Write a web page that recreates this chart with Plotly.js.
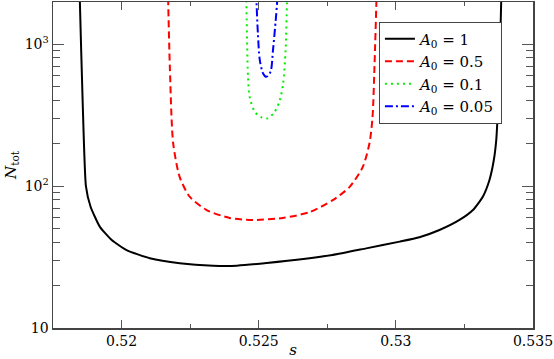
<!DOCTYPE html>
<html>
<head>
<meta charset="utf-8">
<script src="https://cdn.plot.ly/plotly-3.0.1.min.js"></script>
<style>
  html, body { margin: 0; padding: 0; background: #fff; }
  #plot { width: 554px; height: 359px; }
</style>
</head>
<body>
<div id="plot"></div>
<script>
// curves: s values and N_tot values for each amplitude
var s1 = [0.51846, 0.51848, 0.51858, 0.51870, 0.51887, 0.51921, 0.51964, 0.52018, 0.52103, 0.52212, 0.52334, 0.52420, 0.52529, 0.52769, 0.52892, 0.53014, 0.53086, 0.53159, 0.53232, 0.53281, 0.53317, 0.53341, 0.53357, 0.53366, 0.53372, 0.53378, 0.53384, 0.53386];
var n1 = [3000, 1977, 403, 100, 71.5, 51.6, 41.7, 35.4, 31.0, 28.6, 27.5, 27.5, 28.7, 32.7, 36.4, 40.6, 43.6, 49.0, 57.7, 67.8, 84.2, 110, 152, 211, 343, 689, 1977, 3000];

var s2 = [0.52168, 0.52170, 0.52176, 0.52188, 0.52212, 0.52249, 0.52310, 0.52394, 0.52478, 0.52587, 0.52686, 0.52770, 0.52831, 0.52879, 0.52904, 0.52915, 0.52922, 0.52929, 0.52931];
var n2 = [3000, 1977, 689, 201, 115.6, 83.8, 67.8, 59.6, 57.7, 59.6, 65.6, 79.6, 98.4, 136, 201, 306, 689, 1977, 3000];

var s3 = [0.52453, 0.52455, 0.52461, 0.52467, 0.52486, 0.52510, 0.52532, 0.52558, 0.52577, 0.52589, 0.52598, 0.52603, 0.52605];
var n3 = [3000, 1977, 589, 425, 333, 305, 300, 333, 403, 529, 907, 1977, 3000];

var s4 = [0.52490, 0.52492, 0.52497, 0.52504, 0.52516, 0.52528, 0.52543, 0.52552, 0.52562, 0.52567, 0.52569];
var n4 = [3000, 1977, 1189, 771, 622, 589, 638, 907, 1476, 1977, 3000];

var names = ["<i>A</i><sub>0</sub> = 1", "<i>A</i><sub>0</sub> = 0.5", "<i>A</i><sub>0</sub> = 0.1", "<i>A</i><sub>0</sub> = 0.05"];

var xTicks = [0.52, 0.525, 0.53, 0.535];
var xTickText = ["0.52", "0.525", "0.53", "0.535"];
var xMinor = [0.5225, 0.5275, 0.5325];
var yTicks = [10, 100, 1000];
var yTickText = ["10", "10<sup>2</sup>", "10<sup>3</sup>"];
var yMinor = [20, 30, 40, 50, 60, 70, 80, 90, 200, 300, 400, 500, 600, 700, 800, 900];

var font = "DejaVu Serif";

var data = [
  {x: s1, y: n1, name: names[0], mode: "lines", line: {color: "#000000", width: 2, shape: "spline", smoothing: 0.5}},
  {x: s2, y: n2, name: names[1], mode: "lines", line: {color: "#ff0000", width: 2, dash: "7px,4px", shape: "spline", smoothing: 0.7}},
  {x: s3, y: n3, name: names[2], mode: "lines", line: {color: "#00ee00", width: 2, dash: "2px,4px", shape: "spline", smoothing: 0.8}},
  {x: s4, y: n4, name: names[3], mode: "lines", line: {color: "#0000ff", width: 2, dash: "8px,3px,2px,3px", shape: "spline", smoothing: 0.8}}
];

var layout = {
  width: 554,
  height: 359,
  margin: {l: 53, r: 21, t: 2, b: 31},
  paper_bgcolor: "#fff",
  plot_bgcolor: "#fff",
  font: {family: font, size: 14, color: "#000"},
  showlegend: true,
  legend: {
    x: 0.679, y: 0.94, xanchor: "left", yanchor: "top",
    bordercolor: "#444", borderwidth: 1, bgcolor: "#fff",
    font: {family: font, size: 15},
    tracegroupgap: 0
  },
  xaxis: {
    range: [0.5175, 0.535],
    tickmode: "array", tickvals: xTicks, ticktext: xTickText,
    ticks: "inside", ticklen: 8, tickcolor: "#555",
    minor: {tickmode: "array", tickvals: xMinor, ticks: "inside", ticklen: 4, tickcolor: "#555"},
    showline: true, linecolor: "#444", linewidth: 1.5, mirror: "allticks",
    showgrid: false, zeroline: false,
    tickfont: {family: font, size: 14},
    title: {text: "<i>s</i>", standoff: 0, font: {family: font, size: 15}}
  },
  yaxis: {
    type: "log",
    range: [1, 3.297],
    tickmode: "array", tickvals: yTicks, ticktext: yTickText,
    ticks: "inside", ticklen: 11, tickcolor: "#555",
    minor: {tickmode: "array", tickvals: yMinor, ticks: "inside", ticklen: 7, tickcolor: "#555"},
    showline: true, linecolor: "#444", linewidth: 1.5, mirror: "allticks",
    showgrid: false, zeroline: false,
    tickfont: {family: font, size: 14},
    title: {text: "<i>N</i><sub>tot</sub>", standoff: 4, font: {family: font, size: 15}}
  }
};

Plotly.newPlot("plot", data, layout, {displayModeBar: false, staticPlot: true});
</script>
</body>
</html>
